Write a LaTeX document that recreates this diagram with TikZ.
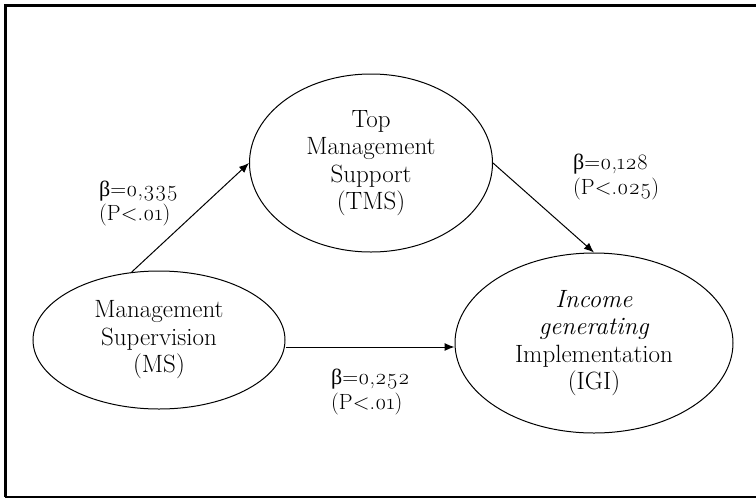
\documentclass[tikz,border=0pt]{standalone}
\usepackage{fontspec}
\setmainfont{Latin Modern Roman}[Numbers=OldStyle]
\newfontfamily\grkfont{Liberation Serif}
\newcommand\betasym{{\grkfont β}}
\usetikzlibrary{shapes.geometric,arrows.meta}
\tikzset{
  construct/.style={draw, ellipse, line width=1pt, inner sep=0pt, align=center,
    font=\fontsize{25}{27.5}\selectfont},
  coeff/.style={align=left, anchor=west, font=\fontsize{22}{24.5}\selectfont, inner sep=0pt},
  path/.style={-{Latex[length=10pt,width=8pt]}, line width=1pt},
}
\begin{document}
\begin{tikzpicture}[x=1pt,y=-1pt]
\useasboundingbox (0,0) rectangle (756,499);
% frame
\draw[line width=3pt] (5,497) -- (5,5.5) -- (756,5.5);
\draw[line width=1.2pt] (5,497) -- (756,497);
% constructs
\node[construct, minimum width=243pt, minimum height=178pt] (TMS) at (371,163)
  {Top\\Management\\Support\\(TMS)};
\node[construct, minimum width=252pt, minimum height=138pt] (MS) at (159,340)
  {Management\\Supervision\\(MS)};
\node[construct, minimum width=278pt, minimum height=180pt] (IGI) at (594,343)
  {\textit{Income}\\\textit{generating}\\Implementation\\(IGI)};
% paths
\draw[path] (MS.112) -- (TMS.west);
\draw[path] (TMS.east) -- (IGI.north);
\coordinate (b) at (286,347);
\draw[path] (b) -- (IGI.west |- b);
% labels
\node[coeff] (l1) at (99,203.5) {\betasym=0,335\\(P<.01)};
\node[coeff] (l2) at (573,177) {\betasym=0,128\\(P<.025)};
\node[coeff] (l3) at (331,392) {\betasym=0,252\\(P<.01)};
\end{tikzpicture}
\end{document}
